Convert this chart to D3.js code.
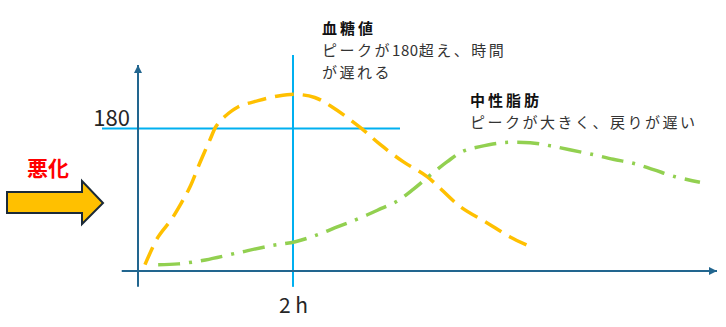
<!DOCTYPE html>
<html>
<head>
<meta charset="utf-8">
<script src="https://cdn.jsdelivr.net/npm/d3@7"></script>
<style>
  html, body { margin: 0; padding: 0; background: #fff; }
  svg text { font-family: "Noto Sans CJK JP", "Noto Sans", sans-serif; }
</style>
</head>
<body>
<div id="g1"></div>
<script>
// 血糖値 (黄色の破線)
var glucoseT = [0.09, 0.26, 0.43, 0.56, 0.67, 0.80, 0.93, 1.01, 1.12, 1.29, 1.55, 1.81, 2.03, 2.28, 2.49, 2.87, 3.12, 3.42, 3.73, 4.16, 4.50, 4.80, 5.08];
var glucoseV = [8, 43, 65, 86, 106, 137, 166, 183, 195, 207, 215, 221, 223, 219, 208, 181, 160, 138, 119, 81, 61, 43, 30];
// 中性脂肪 (緑の一点鎖線)
var lipidT = [0.26, 0.52, 0.87, 1.29, 1.72, 2.03, 2.32, 2.58, 2.74, 2.96, 3.14, 3.34, 3.55, 3.77, 3.99, 4.19, 4.41, 4.71, 5.06, 5.32, 5.57, 5.87, 6.13, 6.39, 6.65, 6.93, 7.25];
var lipidV = [8, 9, 14, 23, 32, 37, 46, 56, 62, 71, 79, 88, 103, 121, 138, 151, 157, 162, 162, 158, 153, 147, 141, 136, 128, 119, 112];

var yTicks = [180];
var xTicks = [2];
var xTickLabels = ["2 h"];

var w = 726, h = 327;
var svg = d3.select("#g1").append("svg").attr("width", w).attr("height", h);

var x = d3.scaleLinear().domain([0, 7.47]).range([138, 717]);
var y = d3.scaleLinear().domain([0, 260]).range([271, 65]);

var axisColor = "#22668F", refColor = "#00B0F0";

// arrow heads for the axes
var defs = svg.append("defs");
defs.append("marker").attr("id", "ah")
    .attr("viewBox", "0 0 10 10").attr("refX", 10).attr("refY", 5)
    .attr("markerWidth", 8).attr("markerHeight", 8)
    .attr("markerUnits", "userSpaceOnUse").attr("orient", "auto")
  .append("path").attr("d", "M0,0L10,5L0,10Z").attr("fill", axisColor);

// reference lines (180 and 2 h)
svg.append("line")
    .attr("x1", 102).attr("x2", 400)
    .attr("y1", y(yTicks[0])).attr("y2", y(yTicks[0]))
    .style("stroke", refColor).style("stroke-width", 2);
svg.append("line")
    .attr("x1", x(xTicks[0])).attr("x2", x(xTicks[0]))
    .attr("y1", 55).attr("y2", y(-20))
    .style("stroke", refColor).style("stroke-width", 2);

// axes
svg.append("line")
    .attr("x1", x(-0.21)).attr("x2", x(7.47))
    .attr("y1", y(0)).attr("y2", y(0))
    .style("stroke", axisColor).style("stroke-width", 2)
    .attr("marker-end", "url(#ah)");
svg.append("line")
    .attr("x1", x(0)).attr("x2", x(0))
    .attr("y1", y(-20)).attr("y2", y(260))
    .style("stroke", axisColor).style("stroke-width", 2)
    .attr("marker-end", "url(#ah)");

var yAxis = d3.axisLeft(y).tickValues(yTicks).tickSize(0).tickPadding(8);
var gy = svg.append("g").attr("transform", "translate(" + x(0) + ",0)").call(yAxis);
gy.select(".domain").remove();
gy.selectAll("text").attr("dy", "-0.12em")
    .style("font-size", "22px").style("fill", "#262626")
    .style("font-family", "'Noto Sans CJK JP', sans-serif");

var xAxis = d3.axisBottom(x).tickValues(xTicks).tickSize(0)
    .tickFormat(function(d, i) { return xTickLabels[i]; });
var gx = svg.append("g").attr("transform", "translate(0," + y(0) + ")").call(xAxis);
gx.select(".domain").remove();
gx.selectAll("text").attr("y", 42).attr("dy", 0)
    .style("font-size", "21px").style("fill", "#262626")
    .style("font-family", "'Noto Sans CJK JP', sans-serif");

// curves
var line = d3.line()
    .x(function(d) { return x(d[0]); })
    .y(function(d) { return y(d[1]); })
    .curve(d3.curveCatmullRom);

svg.append("path")
    .datum(d3.zip(glucoseT, glucoseV))
    .attr("d", line)
    .style("fill", "none").style("stroke", "#FFC000")
    .style("stroke-width", 3.5).style("stroke-dasharray", "19,9");

svg.append("path")
    .datum(d3.zip(lipidT, lipidV))
    .attr("d", line)
    .style("fill", "none").style("stroke", "#92D050")
    .style("stroke-width", 3.5).style("stroke-dasharray", "22,9,3,9");

// block arrow 悪化
svg.append("path")
    .attr("d", "M7,192L82,192L82,181L103,203L82,224L82,213L7,213Z")
    .style("fill", "#FFC000").style("stroke", "#1B2A38").style("stroke-width", 2)
    .style("stroke-linejoin", "miter");
svg.append("text").attr("x", 48).attr("y", 176).attr("text-anchor", "middle")
    .style("font-size", "21px").style("font-weight", "bold").style("fill", "#FF0000")
    .text("悪化");

// annotations (half-width runs get tighter spacing)
var notes = [
  {x: 322, y: 34, bold: true, parts: ["血糖値"]},
  {x: 322, y: 56, bold: false, parts: ["ピークが", "180", "超え、時間"]},
  {x: 322, y: 78, bold: false, parts: ["が遅れる"]},
  {x: 470, y: 106, bold: true, parts: ["中性脂肪"]},
  {x: 470, y: 128, bold: false, parts: ["ピークが大きく、戻りが遅い"]}
];
var note = svg.selectAll("text.note").data(notes).enter().append("text")
    .attr("class", "note")
    .attr("x", function(d) { return d.x; })
    .attr("y", function(d) { return d.y; })
    .style("font-size", "15px")
    .style("font-weight", function(d) { return d.bold ? "bold" : "normal"; })
    .style("fill", function(d) { return d.bold ? "#111" : "#333"; });
note.selectAll("tspan")
    .data(function(d) { return d.parts.map(function(p) { return {p: p, bold: d.bold}; }); })
    .enter().append("tspan")
    .style("letter-spacing", function(d) {
      if (/^[0-9]+$/.test(d.p)) return "0.6px";
      return d.bold ? "3px" : "2.5px";
    })
    .text(function(d) { return d.p; });
</script>
</body>
</html>
